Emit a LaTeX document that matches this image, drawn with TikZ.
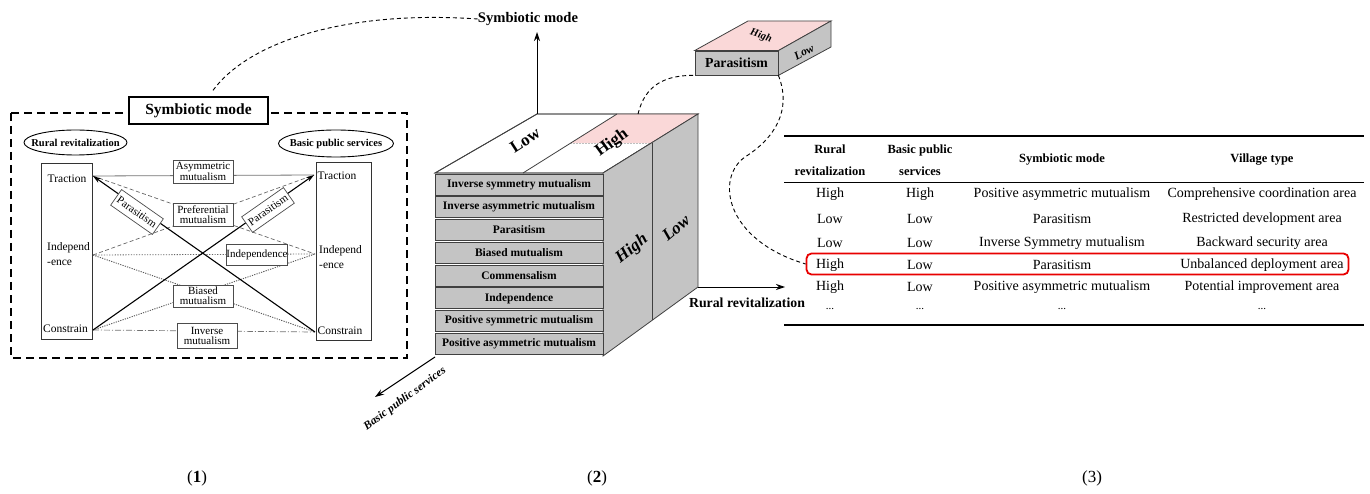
\documentclass[tikz,border=0pt]{standalone}
\usepackage{fontspec}
\setmainfont{Liberation Serif}
\usetikzlibrary{arrows.meta}
\newcommand\myfs[1]{\fontsize{#1}{#1}\selectfont}
\definecolor{cubegray}{RGB}{196,196,196}
\definecolor{pinkc}{RGB}{250,216,216}
\definecolor{redc}{RGB}{232,0,0}
\begin{document}
\begin{tikzpicture}[x=1pt,y=-1pt,
  every node/.style={inner sep=0pt},
  p1txt/.style={font=\myfs{11.5}},
  lbox/.style={draw=black!70, line width=0.7pt, fill=white, align=center, minimum width=60, font=\fontsize{11}{10}\selectfont},
  pbox/.style={draw=black!70, line width=0.7pt, fill=white, font=\myfs{11}, minimum width=51, minimum height=19},
  cubeline/.style={draw=black!75, line width=0.8pt},
  rowbox/.style={cubeline, fill=cubegray, minimum width=168, minimum height=21, font=\bfseries\myfs{11.5}},
  axarrow/.style={line width=1pt, -{Stealth[length=9pt,width=6pt]}},
  conn/.style={line width=0.9pt, dash pattern=on 4pt off 3pt},
  th/.style={font=\bfseries\fontsize{12.5}{21.5}\selectfont, align=center},
  td/.style={font=\myfs{14}},
  asym/.style={line width=0.8pt, black!55},
  pref/.style={line width=0.7pt, black!60, dash pattern=on 4pt off 2.5pt},
  indep/.style={line width=0.8pt, black!60, dash pattern=on 1.2pt off 1.5pt},
  bias/.style={line width=0.9pt, black!65, dash pattern=on 1.2pt off 1.2pt},
  inver/.style={line width=0.7pt, black!55, dash pattern=on 6pt off 2pt on 1pt off 2pt},
  para/.style={line width=1.1pt, black, -{Stealth[length=8pt,width=5pt]}},
]
\useasboundingbox (0,0) rectangle (1370,494);

% ---------------- Panel 1 ----------------
\draw[line width=1.5pt, dash pattern=on 8pt off 5pt] (11,113) rectangle (407,358);
\node[draw, line width=1.2pt, fill=white, minimum width=139, minimum height=27, font=\bfseries\myfs{15.5}] (p1title) at (198.5,110.5) {Symbiotic mode};

\node[font=\bfseries\myfs{10.5}] (ellR) at (75.5,142.5) {Rural revitalization};
\draw[line width=0.9pt] (ellR.center) ellipse [x radius=51.5pt, y radius=12.5pt];
\node[font=\bfseries\myfs{10.5}] (ellB) at (336,143.5) {Basic public services};
\draw[line width=0.9pt] (ellB.center) ellipse [x radius=57.5pt, y radius=13.5pt];

\draw[line width=1pt, black!80] (41,164) rectangle (92,339);
\draw[line width=1pt, black!80] (316,163) rectangle (371,340);

\node[p1txt] (lTr) at (67,179) {Traction};
\node[p1txt, align=left, anchor=west, font=\fontsize{11.5}{15}\selectfont] (lIn) at (47,254) {Independ\\-ence};
\node[p1txt] (lCo) at (65.5,329) {Constrain};
\node[p1txt] (rTr) at (337,176) {Traction};
\node[p1txt, align=left, anchor=west, font=\fontsize{11.5}{15}\selectfont] (rIn) at (319,257) {Independ\\-ence};
\node[p1txt] (rCo) at (340,331) {Constrain};

\coordinate (LT) at (93,176);
\coordinate (LI) at (93,255);
\coordinate (LC) at (93,330);
\coordinate (RT) at (314,175);
\coordinate (RI) at (315,254);
\coordinate (RC) at (315,332);

\draw[asym] (LT) -- (RT);
\draw[pref] (LT) -- (RI);
\draw[pref] (LI) -- (RT);
\draw[indep] (LI) -- (RI);
\draw[bias] (LI) -- (RC);
\draw[bias] (LC) -- (RI);
\draw[inver] (LC) -- (RC);
\draw[para] (RC) -- (LT);
\draw[para] (LC) -- (RT);

\node[lbox, minimum height=23] (bAsym) at (203,171.5) {Asymmetric\\mutualism};
\node[lbox, minimum height=23] (bPref) at (203,214.5) {Preferential\\mutualism};
\node[lbox, minimum height=21] (bInd) at (257,254.5) {Independence};
\node[lbox, minimum height=22] (bBias) at (203,296) {Biased\\mutualism};
\node[lbox, minimum height=25] (bInv) at (207,335.5) {Inverse\\mutualism};
\node[pbox, rotate=-35] (bParL) at (137,212) {Parasitism};
\node[pbox, rotate=35] (bParR) at (268,210) {Parasitism};

% ---------------- Panel 2 ----------------
\coordinate (FL) at (435,173);
\coordinate (FR) at (603,173);
\coordinate (BR) at (698,114);
\coordinate (BL) at (537,114);
\coordinate (BRb) at (698,287);
\coordinate (FRb) at (603,356);
\coordinate (FLb) at (435,357);

\filldraw[cubeline, fill=white] (FL) -- (BL) -- (BR) -- (FR) -- cycle;
\fill[pinkc] (617,114) -- (698,114) -- (652,143) -- (571,143) -- cycle;
\draw[black!25, line width=0.5pt, densely dotted] (571,143) -- (652,143);
\draw[cubeline] (523,173) -- (617,114);
\draw[cubeline] (FL) -- (BL) -- (BR) -- (FR) -- cycle;

\filldraw[cubeline, fill=cubegray] (FR) -- (BR) -- (BRb) -- (FRb) -- cycle;
\draw[cubeline] (652.5,143) -- (652.5,320);

\foreach \t [count=\i from 0] in {Inverse symmetry mutualism, Inverse asymmetric mutualism, Parasitism, Biased mutualism, Commensalism, Independence, Positive symmetric mutualism, Positive asymmetric mutualism}{
  \node[rowbox] (row\i) at (519,{184.5+22.75*\i}) {\t};
}

\node[font=\bfseries\myfs{17}, rotate=33] (tLow) at (525,140) {Low};
\node[font=\bfseries\myfs{17}, rotate=36] (tHigh) at (612,143) {High};
\node[font=\bfseries\itshape\myfs{17}, rotate=38] (sHigh) at (632,249) {High};
\node[font=\bfseries\itshape\myfs{17}, rotate=40] (sLow) at (676,228) {Low};

\coordinate (Vtip) at (537,32);
\draw[axarrow] (BL) -- (Vtip);
\node[font=\bfseries\myfs{14.6}] (ax2lbl) at (528,19) {Symbiotic mode};
\coordinate (Htip) at (785,287);
\draw[axarrow] (BRb) -- (Htip);
\node[font=\bfseries\myfs{13.8}] (axRlbl) at (747,303) {Rural revitalization};
\coordinate (Dtip) at (375,397);
\draw[axarrow] (FLb) -- (Dtip);
\node[font=\bfseries\itshape\myfs{11.5}, rotate=36] (axBlbl) at (405,399) {Basic public services};

% small box
\node[cubeline, fill=cubegray, minimum width=83, minimum height=24, font=\bfseries\myfs{13.8}] (sfront) at (736.5,63) {Parasitism};
\filldraw[cubeline, fill=pinkc] (sfront.north west) -- (748,21) -- (831,21) -- (sfront.north east) -- cycle;
\filldraw[cubeline, fill=cubegray] (sfront.north east) -- (831,21) -- (831,47) -- (sfront.south east) -- cycle;
\node[font=\bfseries\itshape\myfs{10.5}, rotate=-18] (stHigh) at (761,36) {High};
\node[font=\bfseries\itshape\myfs{11.5}, rotate=28] (srLow) at (804,52) {Low};

% ---------------- Panel 3 (table) ----------------
\draw[line width=1.5pt] (784,136) -- (1364,136);
\draw[line width=0.8pt] (784,182) -- (1364,182);
\draw[line width=1.5pt] (784,325) -- (1364,325);
\node[th] (h1) at (830,160) {Rural\\revitalization};
\node[th] (h2) at (920,160) {Basic public\\services};
\node[th] (h3) at (1062,160) {Symbiotic mode};
\node[th] (h4) at (1262,160) {Village type};
\foreach \yy/\a/\b/\c/\d [count=\i] in {
  194/High/High/Positive asymmetric mutualism/Comprehensive coordination area,
  219/Low/Low/Parasitism/Restricted development area,
  243/Low/Low/Inverse Symmetry mutualism/Backward security area,
  265/High/Low/Parasitism/Unbalanced deployment area,
  287/High/Low/Positive asymmetric mutualism/Potential improvement area}{
  \node[td] (c\i-1) at (830,\yy) {\a};
  \node[td] (c\i-2) at (920,\yy) {\b};
  \node[td] (c\i-3) at (1062,\yy) {\c};
  \node[td] (c\i-4) at (1262,\yy) {\d};
}
\foreach \xx [count=\j] in {830,920,1062,1262}{
  \node[font=\myfs{11}] (c6-\j) at (\xx,309) {...};
}
\node[draw=redc, line width=1.8pt, rounded corners=5pt, minimum width=542, minimum height=21] (redbox) at (1077.5,264) {};

% ---------------- connectors ----------------
\draw[conn] ([xshift=14.5pt,yshift=6pt]p1title.north) .. controls (250,40) and (350,10) .. (ax2lbl.west);
\coordinate (cubeTop) at (638,114);
\draw[conn] (cubeTop) .. controls (645,85) and (665,75) .. (sfront.south west);
\draw[conn] (sfront.south east) .. controls (792,110) and (775,138) .. (745,157) .. controls (715,178) and (725,240) .. (redbox.west);

% ---------------- panel labels ----------------
\node[font=\myfs{17}] (lab1) at (197,478) {(\textbf{1})};
\node[font=\myfs{17}] (lab2) at (597,478) {(\textbf{2})};
\node[font=\myfs{17}] (lab3) at (1092,478) {(3)};
\end{tikzpicture}
\end{document}
